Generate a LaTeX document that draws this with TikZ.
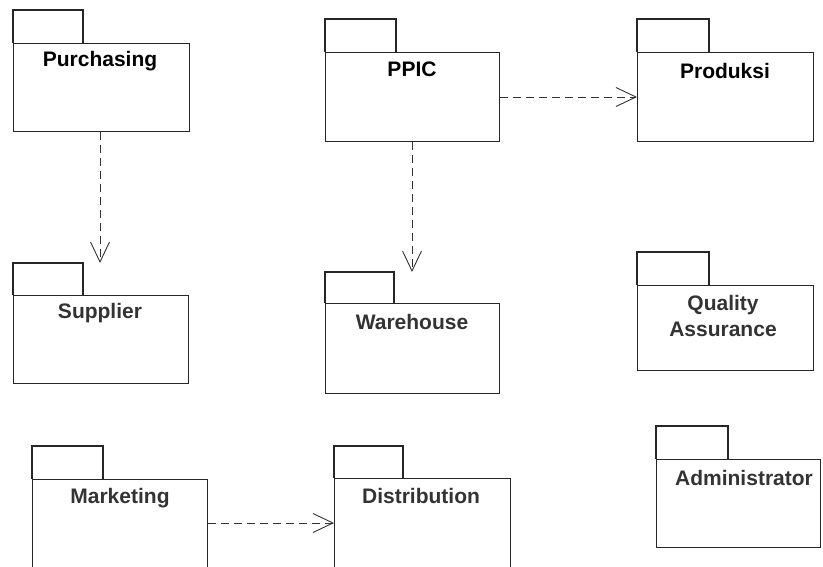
\documentclass[tikz,border=0pt]{standalone}
\usepackage{fontspec}
\setmainfont{Liberation Sans}
\usetikzlibrary{arrows.meta}

\begin{document}
\begin{tikzpicture}[x=1pt,y=-1pt,
  pkgbody/.style={draw=black!85, line width=1.1pt, rectangle, inner sep=0pt},
  pkgtab/.style={draw=black!85, line width=1.1pt},
  pkglabel/.style={font=\fontsize{21}{26}\selectfont\bfseries, text=black!80, inner sep=0pt, align=center},
  depend/.style={draw=black!80, line width=0.9pt, dash pattern=on 8pt off 5pt,
    -{Straight Barb[length=20pt,width=19pt,line width=0.9pt]}}
]
\useasboundingbox (0,0) rectangle (823,567);

% package: #1 name, body corners (#2,#3) and (#4,#5), tab right x #6, tab top y #7
\newcommand\umlpkg[7]{%
  \node[pkgbody, minimum width={#4-#2}, minimum height={#5-#3}, anchor=north west]
    (#1) at (#2,#3) {};
  \draw[pkgtab] (#1.north west) -- (#2,#7) -- (#6,#7) -- (#6,#3);
}

% top row
\umlpkg{purch}{13}{43}{189}{131}{83}{10}
\umlpkg{ppic}{325}{52}{499}{141}{396}{19}
\umlpkg{prod}{637}{52}{813}{141}{709}{19}
% middle row
\umlpkg{supp}{13}{295}{188}{383}{83}{263}
\umlpkg{ware}{325}{303}{499}{393}{394}{272}
\umlpkg{qa}{637}{285}{813}{370}{709}{252}
% bottom row
\umlpkg{mark}{32}{479}{207}{567}{103}{446}
\umlpkg{dist}{334}{478}{510}{567}{403}{446}
\umlpkg{admin}{656}{459}{820}{547}{728}{426}

% labels
\node[pkglabel, text=black] (purchL) at (100,61) {Purchasing};
\node[pkglabel, text=black] (ppicL) at (412,69) {PPIC};
\node[pkglabel, text=black] (prodL) at (725,71) {Produksi};
\node[pkglabel] (suppL) at (100,313) {Supplier};
\node[pkglabel] (wareL) at (412,322) {Warehouse};
\node[pkglabel] (qaL) at (723,316) {Quality\\Assurance};
\node[pkglabel] (markL) at (120,498) {Marketing};
\node[pkglabel] (distL) at (421,496) {Distribution};
\node[pkglabel] (adminL) at (744,478) {Administrator};

% dependency ends that sit beside the tabs
\coordinate (suppIn) at (100,263);
\coordinate (wareIn) at (412,272);

% dependencies
\draw[depend] (purch.south -| suppIn) -- (suppIn);
\draw[depend] (ppic.south -| wareIn) -- (wareIn);
\draw[depend] (ppic.east |- 0,97) -- (prod.west |- 0,97);
\draw[depend] (mark.east |- 0,523) -- (dist.west |- 0,523);
\end{tikzpicture}
\end{document}
